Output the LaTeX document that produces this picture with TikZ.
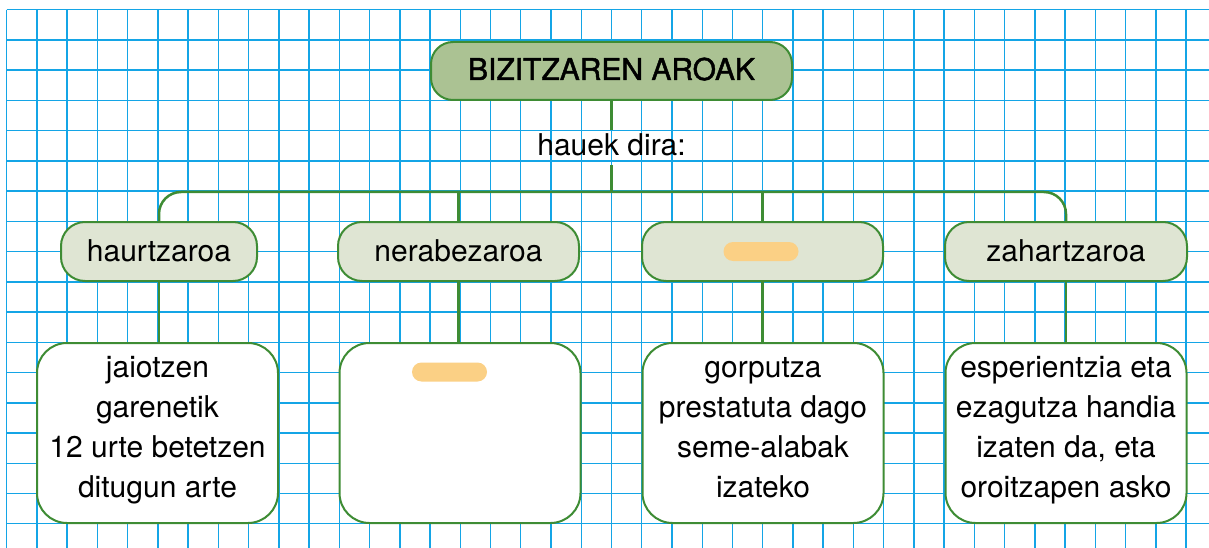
\documentclass[tikz,border=0pt]{standalone}
\usepackage{fontspec}
\setmainfont{TeX Gyre Heros}
\newfontfamily\titlefont[FakeBold=1.5]{TeX Gyre Heros}
\definecolor{gridblue}{RGB}{20,165,230}
\definecolor{lgreen}{RGB}{62,140,52}
\definecolor{titlefill}{RGB}{171,194,147}
\definecolor{ltwofill}{RGB}{223,229,211}
\definecolor{pillc}{RGB}{251,208,133}
\begin{document}
\begin{tikzpicture}[x=1pt,y=-1pt,
  gridline/.style={gridblue,line width=1.4pt},
  conn/.style={lgreen,line width=2.5pt},
  titlebox/.style={draw=lgreen,line width=2pt,fill=titlefill,rounded corners=22pt,
    minimum width=361pt,minimum height=58pt,inner sep=0pt,
    font=\titlefont\fontsize{30}{36}\selectfont,text height=21pt,text depth=3pt},
  agebox/.style={draw=lgreen,line width=2pt,fill=ltwofill,rounded corners=24pt,
    minimum height=59pt,inner sep=0pt,
    font=\fontsize{30}{36}\selectfont,text height=21.6pt,text depth=1.6pt},
  descbox/.style={draw=lgreen,line width=2pt,fill=white,rounded corners=30pt,
    minimum width=241pt,minimum height=180pt,inner sep=0pt,align=center,
    font=\fontsize{30}{40}\selectfont,text height=142pt,text depth=14pt},
  pillbox/.style={fill=pillc,rounded corners=9.5pt,minimum width=75pt,minimum height=19pt,inner sep=0pt},
  lbltext/.style={inner sep=0pt,font=\fontsize{30}{36}\selectfont,text height=26pt,text depth=9pt}
]
\useasboundingbox (0,0) rectangle (1209,548);
% grid
\foreach \i in {0,...,39}{
  \draw[gridline] ({6.7+30.24*\i},9.7) -- ({6.7+30.24*\i},548);
}
\foreach \j in {0,...,17}{
  \draw[gridline] (6.7,{9.7+30.24*\j}) -- (1209,{9.7+30.24*\j});
}
% nodes
\node[titlebox] (title) at (611.5,71) {BIZITZAREN AROAK};
\node[lbltext] (lbl) at (611.5,147.5) {hauek dira:};
\coordinate (bus) at (611.5,192);

\node[agebox,minimum width=196pt] (h) at (159,251.5) {haurtzaroa};
\node[agebox,minimum width=241pt] (n) at (458.5,251.5) {nerabezaroa};
\node[agebox,minimum width=241pt] (t) at (762.5,251.5) {};
\node[agebox,minimum width=242pt] (z) at (1066,251.5) {zahartzaroa};
\node[pillbox] (pa) at (761,251.5) {};

\node[descbox] (b1) at (157.5,433) {jaiotzen\\garenetik\\12 urte betetzen\\ditugun arte};
\node[descbox] (b2) at (460,433) {};
\node[descbox] (b3) at (763,433) {gorputza\\prestatuta dago\\seme-alabak\\izateko};
\node[descbox] (b4) at (1066,433) {esperientzia eta\\ezagutza handia\\izaten da, eta\\oroitzapen asko};
\node[pillbox] (pb) at (449.5,372) {};

% connectors
\draw[conn] (title.south) -- (lbl.north);
\draw[conn] (lbl.south) -- (bus);
\draw[conn,rounded corners=22pt] (h.north) -- (h.north |- bus) -- (z.north |- bus) -- (z.north);
\draw[conn] (n.north |- bus) -- (n.north);
\draw[conn] (t.north |- bus) -- (t.north);
\draw[conn] (h.south) -- (h.south |- b1.north);
\draw[conn] (n.south) -- (n.south |- b2.north);
\draw[conn] (t.south) -- (t.south |- b3.north);
\draw[conn] (z.south) -- (z.south |- b4.north);
\end{tikzpicture}
\end{document}
